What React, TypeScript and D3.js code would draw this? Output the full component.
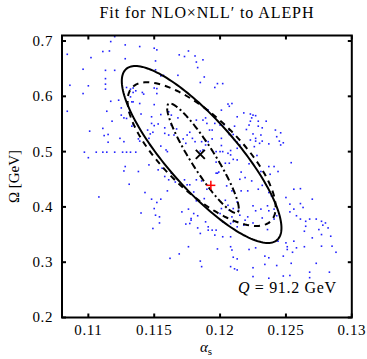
import React from "react";
import * as d3 from "d3";

const xTicks = [0.11, 0.115, 0.12, 0.125, 0.13];
const yTicks = [0.2, 0.3, 0.4, 0.5, 0.6, 0.7];
const xTickLabels = ["0.11", "0.115", "0.12", "0.125", "0.13"];
const yTickLabels = ["0.2", "0.3", "0.4", "0.5", "0.6", "0.7"];

const bestFit = [0.1185, 0.495];
const refPoint = [0.1193, 0.439];

// [centerAlpha, centerOmega, halfWidthAlpha, halfHeightOmega, correlation]
const ellipseOuter = [0.1186, 0.4948, 0.00606, 0.16, -0.83];
const ellipseMiddle = [0.1186, 0.4955, 0.00562, 0.13, -0.74];
const ellipseInner = [0.1187, 0.488, 0.00272, 0.099, -0.92];

const samplesA: [number, number][] = [
  [0.1117, 0.699], [0.112, 0.708], [0.1128, 0.693], [0.1139, 0.69], [0.115, 0.687], [0.1152, 0.684],
  [0.1116, 0.682], [0.1111, 0.681], [0.1084, 0.676], [0.1102, 0.67], [0.1128, 0.668], [0.1169, 0.675],
  [0.1173, 0.672], [0.1176, 0.682], [0.1181, 0.673], [0.1182, 0.662], [0.1183, 0.652], [0.1187, 0.666],
  [0.1151, 0.664], [0.1096, 0.649], [0.1113, 0.647], [0.112, 0.647], [0.1151, 0.648], [0.1155, 0.637],
  [0.1157, 0.638], [0.1168, 0.638], [0.1113, 0.632], [0.1185, 0.625], [0.1188, 0.635], [0.1086, 0.62],
  [0.11, 0.619], [0.1113, 0.622], [0.1113, 0.613], [0.1096, 0.605], [0.1129, 0.616], [0.1132, 0.613],
  [0.1134, 0.615], [0.1136, 0.61], [0.1134, 0.607], [0.1141, 0.607], [0.1142, 0.604], [0.1132, 0.599],
  [0.1133, 0.59], [0.1134, 0.59], [0.1139, 0.587], [0.115, 0.615], [0.1152, 0.614], [0.1152, 0.605],
  [0.115, 0.585], [0.1117, 0.591], [0.1084, 0.573], [0.1114, 0.573], [0.1131, 0.571], [0.114, 0.568],
  [0.1125, 0.566], [0.1129, 0.56], [0.1127, 0.561], [0.1148, 0.563], [0.1155, 0.567], [0.1163, 0.566],
  [0.1118, 0.555], [0.1134, 0.549], [0.1133, 0.546], [0.1148, 0.551], [0.115, 0.547], [0.1153, 0.55],
  [0.1158, 0.543], [0.1163, 0.548], [0.1167, 0.541], [0.1111, 0.542], [0.1101, 0.537], [0.1145, 0.539],
  [0.1147, 0.532], [0.1149, 0.535], [0.1115, 0.531], [0.1112, 0.529], [0.1158, 0.533], [0.1161, 0.53],
  [0.1165, 0.53], [0.1124, 0.524], [0.1127, 0.518], [0.1139, 0.519], [0.1138, 0.523], [0.1146, 0.524],
  [0.1172, 0.523], [0.1175, 0.53], [0.1177, 0.535], [0.1174, 0.515], [0.1179, 0.524], [0.1181, 0.518],
  [0.1186, 0.518], [0.1189, 0.519], [0.1189, 0.512], [0.1187, 0.503], [0.1185, 0.501], [0.1115, 0.517],
  [0.1147, 0.512], [0.1155, 0.51], [0.1159, 0.503], [0.116, 0.5],
  [0.1097, 0.499], [0.1106, 0.499], [0.1111, 0.499], [0.1114, 0.499], [0.112, 0.499], [0.1126, 0.499],
  [0.1129, 0.499], [0.1132, 0.499], [0.1136, 0.499],
  [0.11, 0.489], [0.1128, 0.473], [0.1127, 0.465], [0.1138, 0.464], [0.1146, 0.476], [0.1153, 0.467],
  [0.1156, 0.47], [0.1163, 0.461], [0.1158, 0.455], [0.1125, 0.579], [0.1123, 0.593],
  [0.1175, 0.563], [0.1182, 0.557], [0.1187, 0.557], [0.1161, 0.572], [0.1168, 0.561],
];

const samplesB: [number, number][] = [
  [0.1198, 0.623], [0.1196, 0.616], [0.1202, 0.623], [0.1206, 0.586], [0.1207, 0.582], [0.1209, 0.587],
  [0.1201, 0.575], [0.1191, 0.575], [0.1189, 0.561], [0.1196, 0.562], [0.1213, 0.563], [0.1218, 0.57],
  [0.1223, 0.568], [0.1225, 0.566], [0.1227, 0.565], [0.1224, 0.561], [0.1229, 0.555], [0.1223, 0.555],
  [0.1235, 0.555], [0.119, 0.551], [0.1196, 0.551], [0.12, 0.548], [0.1203, 0.549], [0.1211, 0.546],
  [0.1222, 0.548], [0.1229, 0.546], [0.1232, 0.543], [0.122, 0.54], [0.1192, 0.539], [0.1194, 0.539],
  [0.1207, 0.539], [0.1242, 0.539], [0.1207, 0.531], [0.121, 0.531], [0.1225, 0.532], [0.1231, 0.53],
  [0.1246, 0.534], [0.1194, 0.523], [0.1201, 0.524], [0.1211, 0.521], [0.1213, 0.517], [0.1223, 0.521],
  [0.1227, 0.519], [0.1227, 0.524], [0.123, 0.515], [0.1232, 0.519], [0.1243, 0.527], [0.1245, 0.519],
  [0.1248, 0.516], [0.1246, 0.512], [0.1237, 0.514], [0.1191, 0.518], [0.1201, 0.511], [0.1215, 0.512],
  [0.1197, 0.5], [0.12, 0.5], [0.1202, 0.5], [0.1206, 0.497], [0.1208, 0.502], [0.1208, 0.494],
  [0.1213, 0.506], [0.121, 0.486], [0.1213, 0.485], [0.1222, 0.478], [0.1228, 0.493], [0.1197, 0.481],
  [0.1204, 0.479], [0.1207, 0.479], [0.1199, 0.463], [0.1198, 0.461], [0.1216, 0.463], [0.1231, 0.464],
  [0.1237, 0.473], [0.1241, 0.473], [0.1244, 0.464], [0.1254, 0.48], [0.1226, 0.509], [0.1238, 0.459],
];

const samplesC: [number, number][] = [
  [0.1131, 0.441], [0.1108, 0.418], [0.1143, 0.426], [0.116, 0.429], [0.1148, 0.414], [0.1152, 0.408],
  [0.1155, 0.414], [0.115, 0.397], [0.114, 0.389], [0.1151, 0.385], [0.1154, 0.382], [0.1154, 0.371],
  [0.1149, 0.361], [0.1161, 0.449], [0.1166, 0.445], [0.1173, 0.449], [0.1177, 0.44], [0.118, 0.427],
  [0.1182, 0.449], [0.1186, 0.447], [0.119, 0.432], [0.1188, 0.415], [0.1182, 0.411], [0.1171, 0.391],
  [0.1176, 0.396], [0.118, 0.388], [0.1178, 0.379], [0.1174, 0.369], [0.1177, 0.37], [0.1183, 0.362],
  [0.1191, 0.364], [0.1191, 0.358], [0.1176, 0.328], [0.1169, 0.315], [0.1162, 0.307], [0.1185, 0.302],
  [0.1186, 0.292], [0.1175, 0.44], [0.1178, 0.376], [0.1185, 0.352], [0.1183, 0.384], [0.1189, 0.373],
  [0.1194, 0.358],
  [0.1197, 0.461], [0.1205, 0.438], [0.1209, 0.429], [0.1204, 0.412], [0.1206, 0.403], [0.1207, 0.394],
  [0.121, 0.397], [0.1214, 0.394], [0.1201, 0.397], [0.12, 0.388], [0.1204, 0.382], [0.1209, 0.382],
  [0.1215, 0.385], [0.1219, 0.376], [0.1221, 0.382], [0.1202, 0.373], [0.1208, 0.37], [0.121, 0.373],
  [0.1213, 0.364], [0.1218, 0.367], [0.1221, 0.367], [0.1197, 0.358], [0.1196, 0.349], [0.1202, 0.346],
  [0.1208, 0.346], [0.1198, 0.324], [0.1208, 0.328], [0.1209, 0.322], [0.121, 0.309], [0.1213, 0.306],
  [0.1208, 0.292], [0.1211, 0.288], [0.1213, 0.286],
  [0.1215, 0.45], [0.1219, 0.453], [0.1216, 0.429], [0.1221, 0.429], [0.1213, 0.409],
];

const samplesD: [number, number][] = [
  [0.1224, 0.447], [0.1229, 0.432], [0.1232, 0.439], [0.1237, 0.426], [0.1239, 0.42], [0.1256, 0.432],
  [0.1261, 0.433], [0.127, 0.414], [0.125, 0.417], [0.1253, 0.405], [0.1261, 0.406], [0.1263, 0.399],
  [0.1256, 0.396], [0.1253, 0.391], [0.1225, 0.402], [0.1227, 0.393], [0.1231, 0.396], [0.1236, 0.402],
  [0.1237, 0.393], [0.1241, 0.396], [0.1243, 0.384], [0.1225, 0.371], [0.1232, 0.38], [0.1237, 0.371],
  [0.1241, 0.378], [0.1236, 0.359], [0.1258, 0.384], [0.1261, 0.378], [0.1265, 0.374], [0.1268, 0.378],
  [0.1273, 0.378], [0.1277, 0.374], [0.128, 0.371], [0.1282, 0.362], [0.1275, 0.359], [0.1278, 0.367],
  [0.1265, 0.365], [0.1264, 0.356], [0.127, 0.344], [0.1256, 0.338], [0.125, 0.335], [0.1251, 0.328],
  [0.1277, 0.35], [0.1284, 0.347], [0.1285, 0.329], [0.1288, 0.318], [0.1277, 0.329], [0.1258, 0.326],
  [0.1264, 0.328], [0.1244, 0.338], [0.1251, 0.323], [0.1227, 0.326], [0.1234, 0.311], [0.1237, 0.308],
  [0.1248, 0.311], [0.1255, 0.318], [0.1243, 0.294], [0.1254, 0.298], [0.1273, 0.298], [0.1283, 0.282],
  [0.1268, 0.282], [0.1225, 0.29], [0.1234, 0.296], [0.1248, 0.275], [0.1253, 0.276], [0.1225, 0.274],
  [0.1268, 0.272], [0.1222, 0.323], [0.1237, 0.271],
];

const W = 367;
const H = 359;
const serif = "Liberation Serif";

function ellipsePath(
  p: number[],
  x: d3.ScaleLinear<number, number>,
  y: d3.ScaleLinear<number, number>
) {
  const [ca, co, sa, so, rho] = p;
  const ts = d3.range(0, 361, 2).map((d) => (d * Math.PI) / 180);
  const pts: [number, number][] = ts.map((t) => [
    ca + sa * Math.cos(t),
    co + so * (rho * Math.cos(t) + Math.sqrt(1 - rho * rho) * Math.sin(t)),
  ]);
  const line = d3
    .line<[number, number]>()
    .x((d) => x(d[0]))
    .y((d) => y(d[1]))
    .curve(d3.curveLinearClosed);
  return line(pts) || "";
}

export default function App() {
  const x = d3.scaleLinear().domain([0.108, 0.13]).range([62, 351.8]);
  const y = d3.scaleLinear().domain([0.2, 0.71]).range([317.5, 35.5]);
  const [x0, x1] = x.range();
  const [y0, y1] = y.range();
  const all = [...samplesA, ...samplesB, ...samplesC, ...samplesD];
  const bx = x(bestFit[0]);
  const by = y(bestFit[1]);
  const rx = x(refPoint[0]);
  const ry = y(refPoint[1]);
  return (
    <svg
      width={W}
      height={H}
      style={{ position: "absolute", left: 0, top: 0, background: "#fff" }}
      fontFamily={serif}
    >
      <rect x={0} y={0} width={W} height={H} fill="#fff" />
      <text x={99.5} y={18} fontSize={16} textLength={214} lengthAdjust="spacing">
        Fit for NLO×NLL′ to ALEPH
      </text>
      <g>
        {all.map((d, i) => (
          <rect
            key={i}
            x={x(d[0]) - 0.8}
            y={y(d[1]) - 0.8}
            width={1.6}
            height={1.6}
            fill="#2020ff"
          />
        ))}
      </g>
      <path d={ellipsePath(ellipseOuter, x, y)} fill="none" stroke="#000" strokeWidth={2} />
      <path
        d={ellipsePath(ellipseMiddle, x, y)}
        fill="none"
        stroke="#000"
        strokeWidth={2}
        strokeDasharray="6,5"
      />
      <path
        d={ellipsePath(ellipseInner, x, y)}
        fill="none"
        stroke="#000"
        strokeWidth={2}
        strokeDasharray="7,3,2,3"
      />
      <g stroke="#000" strokeWidth={2}>
        <line x1={bx - 4.5} y1={by - 4.5} x2={bx + 4.5} y2={by + 4.5} />
        <line x1={bx - 4.5} y1={by + 4.5} x2={bx + 4.5} y2={by - 4.5} />
      </g>
      <g stroke="#ff0000" strokeWidth={1.5}>
        <line x1={rx - 4.5} y1={ry} x2={rx + 4.5} y2={ry} />
        <line x1={rx} y1={ry - 4.5} x2={rx} y2={ry + 4.5} />
      </g>
      <rect
        x={x0}
        y={y1}
        width={x1 - x0}
        height={y0 - y1}
        fill="none"
        stroke="#000"
        strokeWidth={2}
      />
      <g stroke="#000" strokeWidth={2}>
        {xTicks.map((t, i) => (
          <g key={"xt" + i}>
            <line x1={x(t)} x2={x(t)} y1={y0} y2={y0 - 4} />
            <line x1={x(t)} x2={x(t)} y1={y1} y2={y1 + 4} />
          </g>
        ))}
        {yTicks.map((t, i) => (
          <g key={"yt" + i}>
            <line x1={x0} x2={x0 + 4} y1={y(t)} y2={y(t)} />
            <line x1={x1} x2={x1 - 4} y1={y(t)} y2={y(t)} />
          </g>
        ))}
      </g>
      <g fontSize={15} fill="#000">
        {xTicks.map((t, i) => (
          <text key={"xl" + i} x={x(t)} y={335} textAnchor="middle" letterSpacing={0.6}>
            {xTickLabels[i]}
          </text>
        ))}
        {yTicks.map((t, i) => (
          <text key={"yl" + i} x={53} y={y(t)} dy="0.33em" textAnchor="end" letterSpacing={0.6}>
            {yTickLabels[i]}
          </text>
        ))}
      </g>
      <text x={206} y={352} textAnchor="middle" fontSize={15}>
        <tspan fontStyle="italic">α</tspan>
        <tspan fontSize={11} dy={3}>s</tspan>
      </text>
      <text
        transform={`translate(19,${(y0 + y1) / 2}) rotate(-90)`}
        textAnchor="middle"
        fontSize={15}
      >
        Ω [GeV]
      </text>
      <text x={238} y={292.7} fontSize={16} textLength={98} lengthAdjust="spacing">
        <tspan fontStyle="italic">Q</tspan> = 91.2 GeV
      </text>
    </svg>
  );
}
